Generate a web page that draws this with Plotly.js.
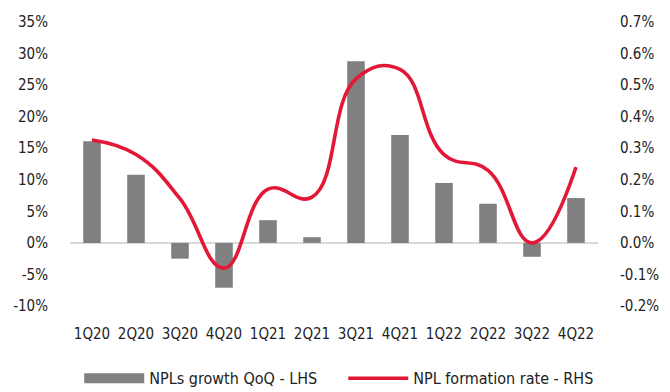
<!DOCTYPE html>
<html><head><meta charset="utf-8">
<script src="https://cdn.plot.ly/plotly-3.0.1.min.js"></script>
<style>body{margin:0;padding:0;background:#fff}#chart{width:670px;height:392px}</style>
</head><body><div id="chart"></div>
<script>
const quarters = ['1Q20','2Q20','3Q20','4Q20','1Q21','2Q21','3Q21','4Q21','1Q22','2Q22','3Q22','4Q22'];
const nplGrowthQoQ = [16.1, 10.8, -2.5, -7.1, 3.6, 0.9, 28.8, 17.1, 9.5, 6.2, -2.2, 7.1];
const nplFormationRate = [0.326, 0.28, 0.14, -0.08, 0.17, 0.145, 0.52, 0.55, 0.28, 0.23, 0.0, 0.24];
const leftTicks = [-10, -5, 0, 5, 10, 15, 20, 25, 30, 35];
const rightTicks = [-0.2, -0.1, 0, 0.1, 0.2, 0.3, 0.4, 0.5, 0.6, 0.7];
const seriesNames = ['NPLs growth QoQ - LHS', 'NPL formation rate - RHS'];

const FONT = 'Liberation Sans Narrow, Arial Narrow, DejaVu Sans Condensed, sans-serif';
const GRAY = '#808080', RED = '#E31837';
const traces = [
  {type:'bar', x: quarters, y: nplGrowthQoQ, name: seriesNames[0],
   marker:{color:GRAY}, yaxis:'y', showlegend:false},
  // legend key for the bars (wide rectangle as in the reference)
  {type:'scatter', mode:'lines', x:[null], y:[null], name: seriesNames[0],
   line:{color:GRAY, width:10}, yaxis:'y', hoverinfo:'skip'},
  {type:'scatter', mode:'lines', x: quarters, y: nplFormationRate, name: seriesNames[1],
   line:{color:RED, width:3.6, shape:'spline', smoothing:1.25}, yaxis:'y2'}
];
const layout = {
  width:670, height:392,
  margin:{l:70, r:72, t:22, b:86},
  paper_bgcolor:'#fff', plot_bgcolor:'#fff',
  font:{family:FONT, size:15, color:'#222'},
  bargap:0.6,
  showlegend:true,
  legend:{orientation:'h', x:0.0175, xanchor:'left', yref:'container', y:0.035, yanchor:'middle',
          font:{family:FONT, size:16, color:'#222'}, itemwidth:60, entrywidth:189, traceorder:'normal'},
  xaxis:{type:'category', showgrid:false, showline:false, ticks:'outside', ticklen:14, tickcolor:'rgba(0,0,0,0)',
         tickfont:{family:FONT, size:15, color:'#222'}},
  yaxis:{range:[-10,35], tickvals:leftTicks, ticktext:leftTicks.map(v=>v+'%'), showgrid:false,
         zeroline:true, zerolinecolor:'#d9d9d9', zerolinewidth:2, showline:false,
         ticks:'outside', ticklen:18, tickcolor:'rgba(0,0,0,0)',
         tickfont:{family:FONT, size:15, color:'#222'}},
  yaxis2:{range:[-0.2,0.7], overlaying:'y', side:'right', tickvals:rightTicks,
          ticktext:rightTicks.map(v=>v.toFixed(1)+'%'), showgrid:false, zeroline:false, showline:false,
          ticks:'outside', ticklen:18, tickcolor:'rgba(0,0,0,0)',
          tickfont:{family:FONT, size:15, color:'#222'}}
};
Plotly.newPlot('chart', traces, layout, {displayModeBar:false, staticPlot:true});
</script></body></html>
